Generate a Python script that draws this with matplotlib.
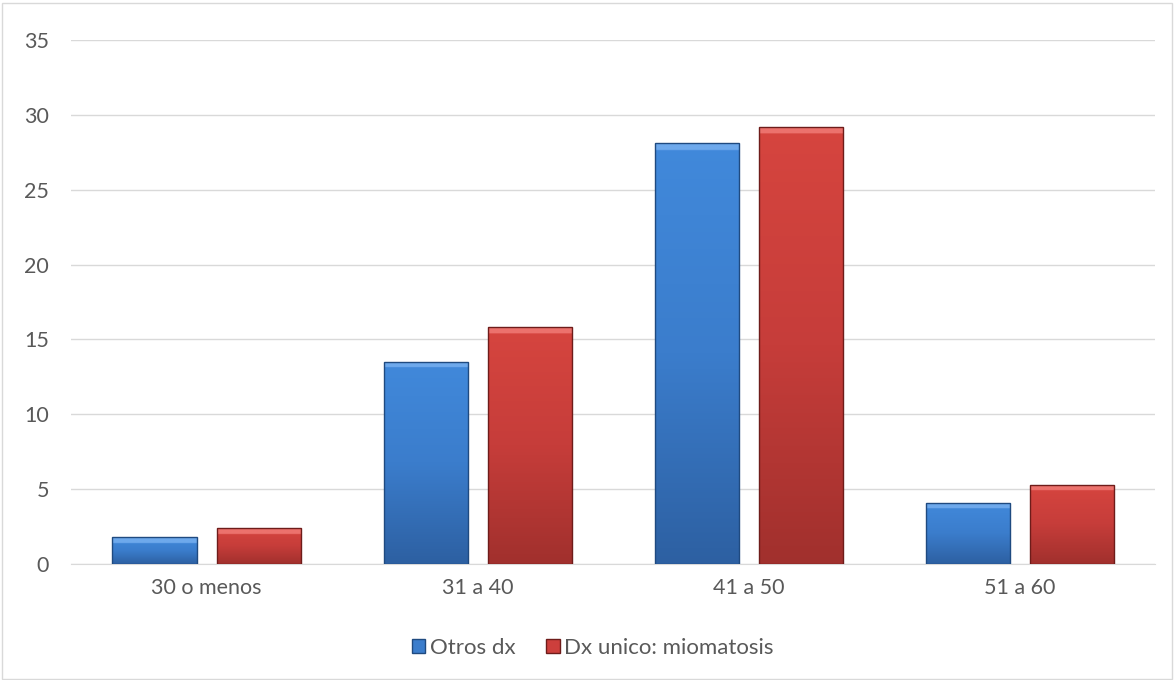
import matplotlib
matplotlib.use("Agg")
import matplotlib.pyplot as plt
import numpy as np
from matplotlib.colors import LinearSegmentedColormap

categories = ["30 o menos", "31 a 40", "41 a 50", "51 a 60"]
otros_dx = [1.8, 13.5, 28.1, 4.1]
dx_unico = [2.4, 15.8, 29.2, 5.3]
series_names = ["Otros dx", "Dx unico: miomatosis"]

plt.rcParams["font.family"] = ["Lato", "DejaVu Sans"]

# bottom -> top, last entry is the bevel highlight
BLUE = ["#2d60a2", "#3b7dcc", "#4189db", "#6ea9ec"]
RED = ["#a1302d", "#c63d3a", "#d6453f", "#ec726d"]


def fill_gradient(ax, bars, colors):
    base = LinearSegmentedColormap.from_list("g", colors[:3])
    px_per_unit = 524 / 35.0
    for b in bars:
        x0, y0 = b.get_x(), b.get_y()
        x1, y1 = x0 + b.get_width(), y0 + b.get_height()
        hpx = max(b.get_height() * px_per_unit, 1)
        t = np.linspace(0, 1, 300)
        rgb = base(t)[:, :3]
        # light strip a few px under the top edge
        strip = t > 1 - 6.0 / hpx
        rgb[strip] = matplotlib.colors.to_rgb(colors[3])
        img = rgb.reshape(-1, 1, 3)
        im = ax.imshow(img, origin="lower", aspect="auto",
                       extent=(x0, x1, y0, y1), zorder=3,
                       interpolation="bilinear")
        im.set_clip_path(b)
        b.set_facecolor("none")
        b.set_zorder(4)


def create_graph():
    fig = plt.figure(figsize=(11.74, 6.8), dpi=100)
    ax = fig.add_axes([0.0605, 0.1706, 0.9235, 0.7706])
    x = np.arange(len(categories))
    w = 0.31
    off = 0.192
    b1 = ax.bar(x - off, otros_dx, w, color="#3b7dcc", edgecolor="#1f4a80",
                linewidth=1.0, label=series_names[0], zorder=3)
    b2 = ax.bar(x + off, dx_unico, w, color="#cd3f3c", edgecolor="#6e1c1a",
                linewidth=1.0, label=series_names[1], zorder=3)

    leg = fig.legend(loc="center", bbox_to_anchor=(0.505, 0.047), ncol=2,
                     frameon=False, fontsize=16, handlelength=0.6,
                     handleheight=0.6, columnspacing=1.4, handletextpad=0.2)
    for t in leg.get_texts():
        t.set_color("#595959")

    fill_gradient(ax, b1, BLUE)
    fill_gradient(ax, b2, RED)

    ax.set_xlim(-0.5, len(categories) - 0.5)
    ax.set_ylim(0, 35)
    ax.set_yticks(np.arange(0, 36, 5))
    ax.set_xticks(x)
    ax.set_xticklabels(categories)
    ax.yaxis.grid(True, color="#d9d9d9", linewidth=1.0, zorder=0)
    ax.set_axisbelow(True)
    for s in ["top", "right", "left"]:
        ax.spines[s].set_visible(False)
    ax.spines["bottom"].set_color("#d9d9d9")
    ax.tick_params(axis="both", length=0, labelsize=15.5, labelcolor="#595959")
    ax.tick_params(axis="y", pad=16)
    ax.tick_params(axis="x", pad=10)

    fig.patches.append(plt.Rectangle((0.002, 0.002), 0.996, 0.994,
                                     transform=fig.transFigure, fill=False,
                                     edgecolor="#d9d9d9", linewidth=1.0))
    return fig


def save_graph(fig, image_file):
    fig.savefig(image_file, dpi=100)


if __name__ == "__main__":
    fig = create_graph()
    save_graph(fig, "out.png")
